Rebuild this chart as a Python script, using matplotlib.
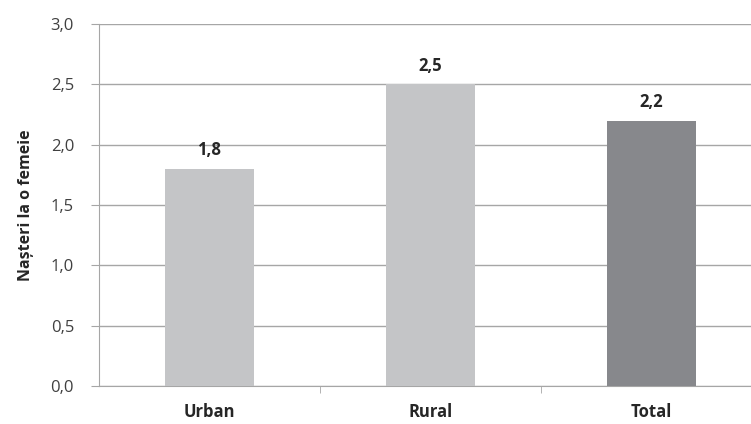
import matplotlib
matplotlib.use("Agg")
import matplotlib.pyplot as plt

categories = ["Urban", "Rural", "Total"]
values = [1.8, 2.5, 2.2]
value_labels = ["1,8", "2,5", "2,2"]
yticks = [0.0, 0.5, 1.0, 1.5, 2.0, 2.5, 3.0]
ytick_labels = ["0,0", "0,5", "1,0", "1,5", "2,0", "2,5", "3,0"]
cols = ["#c4c5c7", "#c4c5c7", "#87888c"]

plt.rcParams["font.family"] = ["Open Sans", "DejaVu Sans"]

fig = plt.figure(figsize=(7.51, 4.24), dpi=100)
# axes spans a little past the right edge, as in the original
ax = fig.add_axes([99 / 751, 1 - 386 / 424, 663 / 751, 362 / 424])

x = range(len(categories))
ax.bar(x, values, width=0.4, color=cols, zorder=3)
for i, v in enumerate(values):
    ax.annotate(value_labels[i], (i, v), xytext=(0, 7), textcoords="offset points",
                ha="center", va="bottom", fontsize=12, fontweight="bold", color="#262626")

ax.set_xlim(-0.5, 2.5)
ax.set_ylim(0, 3.0)
ax.set_yticks(yticks)
ax.set_yticklabels(ytick_labels, fontsize=12, color="#404040")
ax.set_xticks(x)
ax.set_xticklabels(categories, fontsize=12, fontweight="bold", color="#262626")
ax.set_xticks([0.5, 1.5], minor=True)
ax.tick_params(axis="x", which="major", length=0, pad=12)
ax.tick_params(axis="x", which="minor", length=5, color="#a6a6a6", direction="out")
ax.tick_params(axis="y", length=6, color="#a6a6a6", pad=12)
ax.grid(axis="y", color="#a6a6a6", linewidth=1, zorder=0)

for s in ["top", "right"]:
    ax.spines[s].set_visible(False)
ax.spines["left"].set_color("#a6a6a6")
ax.spines["bottom"].set_color("#a6a6a6")

ax.set_ylabel("Nașteri la o femeie", fontsize=11.5, fontweight="bold", color="#262626", labelpad=12)

fig.savefig("out.png", dpi=100)
